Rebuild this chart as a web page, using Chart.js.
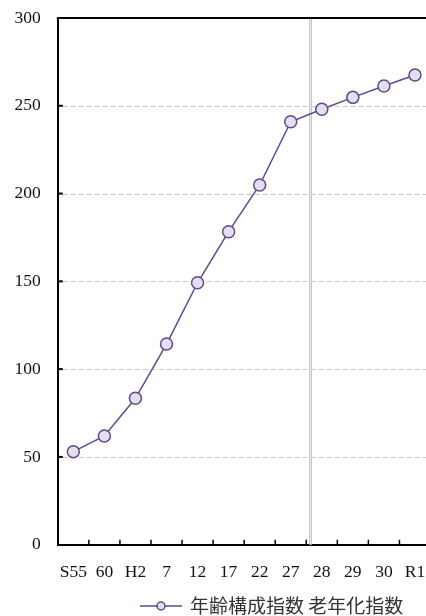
<!DOCTYPE html>
<html>
<head>
<meta charset="utf-8">
<script src="https://cdn.jsdelivr.net/npm/chart.js@4"></script>
<style>
  html, body { margin: 0; padding: 0; background: #fff; overflow: hidden; }
  #wrap { width: 438px; height: 616px; }
</style>
</head>
<body>
<div id="wrap"><canvas id="chart" width="438" height="616"></canvas></div>
<script>
const categories = ["S55", "60", "H2", "7", "12", "17", "22", "27", "28", "29", "30", "R1"];
const agingIndex = [53.0, 61.9, 83.4, 114.3, 149.2, 178.3, 204.9, 240.9, 248.0, 254.8, 261.3, 267.5];
const seriesLabel = "年齢構成指数 老年化指数";
const yMin = 0;
const yMax = 300;
const yStep = 50;
// the survey changes from 5-yearly to yearly after this category
const breakAfter = "27";

const lineColour = "#5c4a8c";
const pointColour = "#e4deee";
const gridColour = "#c8c8c8";
const axisFont = { family: "'Liberation Serif', 'Times New Roman', serif", size: 17.5 };

const framePlugin = {
  id: "frame",
  beforeDatasetsDraw(chart) {
    const { ctx, chartArea, scales } = chart;
    const x = scales.x;
    const y = scales.y;
    ctx.save();

    // dashed grid lines
    ctx.strokeStyle = gridColour;
    ctx.lineWidth = 1;
    ctx.setLineDash([5, 3]);
    for (let v = yMin + yStep; v < yMax; v += yStep) {
      const py = Math.round(y.getPixelForValue(v)) + 0.5;
      ctx.beginPath();
      ctx.moveTo(chartArea.left + 5, py);
      ctx.lineTo(chartArea.right, py);
      ctx.stroke();
    }
    ctx.setLineDash([]);

    // separator between the 5-yearly and yearly part
    const i = categories.indexOf(breakAfter);
    const bx = Math.round((x.getPixelForValue(i) + x.getPixelForValue(i + 1)) / 2);
    ctx.strokeStyle = "#c4c4c4";
    [bx + 3.5, bx + 5.5].forEach((px) => {
      ctx.beginPath();
      ctx.moveTo(px, chartArea.top);
      ctx.lineTo(px, chartArea.bottom);
      ctx.stroke();
    });
    ctx.strokeStyle = "#ececec";
    ctx.beginPath();
    ctx.moveTo(bx + 4.5, chartArea.top);
    ctx.lineTo(bx + 4.5, chartArea.bottom);
    ctx.stroke();

    // top border
    ctx.strokeStyle = "#000";
    ctx.lineWidth = 2;
    ctx.beginPath();
    ctx.moveTo(chartArea.left - 1, chartArea.top);
    ctx.lineTo(chartArea.right, chartArea.top);
    ctx.stroke();

    // inward ticks on the y axis
    for (let v = yMin + yStep; v < yMax; v += yStep) {
      const py = y.getPixelForValue(v);
      ctx.beginPath();
      ctx.moveTo(chartArea.left, py);
      ctx.lineTo(chartArea.left + 5, py);
      ctx.stroke();
    }

    // inward ticks on the x axis, between categories
    ctx.lineWidth = 1.5;
    for (let k = 0; k < categories.length - 1; k++) {
      const px = (x.getPixelForValue(k) + x.getPixelForValue(k + 1)) / 2;
      ctx.beginPath();
      ctx.moveTo(px, chartArea.bottom);
      ctx.lineTo(px, chartArea.bottom - 5);
      ctx.stroke();
    }
    ctx.restore();
  },
  afterDraw(chart) {
    const { ctx } = chart;
    const ds = chart.data.datasets[0];
    const ly = 606;
    ctx.save();
    ctx.strokeStyle = ds.borderColor;
    ctx.lineWidth = 1.5;
    ctx.beginPath();
    ctx.moveTo(140, ly);
    ctx.lineTo(182, ly);
    ctx.stroke();
    ctx.beginPath();
    ctx.arc(161, ly, 4, 0, Math.PI * 2);
    ctx.fillStyle = ds.pointBackgroundColor;
    ctx.fill();
    ctx.stroke();
    ctx.fillStyle = "#333";
    ctx.font = "19px 'Noto Sans CJK JP', sans-serif";
    ctx.textBaseline = "middle";
    ctx.fillText(ds.label, 190, ly);
    ctx.restore();
  },
};

new Chart(document.getElementById("chart"), {
  type: "line",
  data: {
    labels: categories,
    datasets: [
      {
        label: seriesLabel,
        data: agingIndex,
        borderColor: lineColour,
        borderWidth: 1.5,
        tension: 0,
        pointRadius: 6,
        pointBackgroundColor: pointColour,
        pointBorderColor: lineColour,
        pointBorderWidth: 1.5,
      },
    ],
  },
  plugins: [framePlugin],
  options: {
    responsive: false,
    animation: false,
    devicePixelRatio: 1,
    layout: { padding: { top: 18, right: 1.3, bottom: 26.3, left: 0 } },
    plugins: {
      legend: { display: false },
      tooltip: { enabled: false },
    },
    scales: {
      x: {
        offset: true,
        grid: { display: false },
        border: { display: true, color: "#000", width: 2 },
        ticks: { color: "#111", font: axisFont, padding: 9, maxRotation: 0, autoSkip: false },
        afterFit(scale) { scale.height = 45; },
      },
      y: {
        min: yMin,
        max: yMax,
        ticks: { stepSize: yStep, color: "#111", font: axisFont, padding: 17 },
        grid: { display: false, drawTicks: false },
        border: { display: true, color: "#000", width: 2 },
        afterFit(scale) {
          scale.width = 57.8;
          scale.paddingTop = 0;
          scale.paddingBottom = 0;
        },
      },
    },
  },
});
</script>
</body>
</html>
